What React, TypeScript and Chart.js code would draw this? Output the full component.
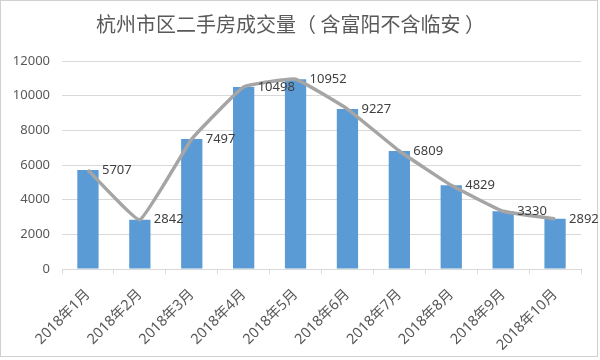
import React, { useEffect, useRef } from "react";
import { Chart, registerables } from "chart.js";

Chart.register(...registerables);

const TITLE = "杭州市区二手房成交量（ 含富阳不含临安 ）";
const MONTHS = [
  "2018年1月", "2018年2月", "2018年3月", "2018年4月", "2018年5月",
  "2018年6月", "2018年7月", "2018年8月", "2018年9月", "2018年10月",
];
const VOLUMES = [5707, 2842, 7497, 10498, 10952, 9227, 6809, 4829, 3330, 2892];
const Y_MIN = 0;
const Y_MAX = 12000;
const Y_STEP = 2000;

const FONT = "'Noto Sans', 'Noto Sans CJK SC', sans-serif";
const TITLE_FONT = "'Noto Sans CJK SC', sans-serif";

const framePlugin = {
  id: "frame",
  beforeDraw(chart: any) {
    const ctx = chart.ctx;
    ctx.save();
    ctx.fillStyle = "#ffffff";
    ctx.fillRect(0, 0, chart.width, chart.height);
    ctx.strokeStyle = "#d0d0d0";
    ctx.lineWidth = 1;
    ctx.strokeRect(0.5, 0.5, 597, 356);
    ctx.restore();
  },
};

const valueLabelPlugin = {
  id: "valueLabels",
  afterDatasetsDraw(chart: any) {
    const ctx = chart.ctx;
    const meta = chart.getDatasetMeta(1);
    const data = chart.data.datasets[1].data;
    ctx.save();
    ctx.font = `13px ${FONT}`;
    ctx.fillStyle = "#404040";
    ctx.textAlign = "left";
    ctx.textBaseline = "middle";
    meta.data.forEach((pt: any, i: number) => {
      ctx.fillText(String(data[i]), pt.x + 14, pt.y);
    });
    ctx.restore();
  },
};

export default function App() {
  const ref = useRef<HTMLCanvasElement>(null);
  useEffect(() => {
    if (!ref.current) return;
    const chart = new Chart(ref.current, {
      type: "bar",
      data: {
        labels: MONTHS,
        datasets: [
          {
            type: "bar",
            data: VOLUMES,
            backgroundColor: "#5b9bd5",
            barPercentage: 0.41,
            categoryPercentage: 1,
            order: 2,
          },
          {
            type: "line",
            data: VOLUMES,
            borderColor: "#a5a5a5",
            borderWidth: 3.5,
            tension: 0.1,
            pointRadius: 0,
            fill: false,
            order: 1,
          },
        ],
      } as any,
      options: {
        animation: false,
        responsive: false,
        layout: { padding: { left: 0, right: 19, top: 0, bottom: 0 } },
        plugins: {
          legend: { display: false },
          tooltip: { enabled: false },
          title: {
            display: true,
            text: TITLE,
            color: "#595959",
            font: { family: TITLE_FONT, size: 20, weight: "normal" },
            padding: { top: 12, bottom: 25 },
          },
        },
        scales: {
          x: {
            grid: {
              offset: true,
              drawOnChartArea: false,
              drawTicks: true,
              tickLength: 5,
              color: "#d9d9d9",
            },
            border: { display: true, color: "#d9d9d9" },
            ticks: {
              color: "#595959",
              font: { family: FONT, size: 14.5 },
              minRotation: 45,
              maxRotation: 45,
              autoSkip: false,
              padding: 12,
            },
            afterFit(scale: any) {
              scale.height = 91;
            },
          },
          y: {
            min: Y_MIN,
            max: Y_MAX,
            grid: { color: "#d9d9d9", drawTicks: false },
            border: { display: false },
            ticks: {
              stepSize: Y_STEP,
              color: "#595959",
              font: { family: FONT, size: 13 },
              padding: 12,
              callback: (v: any) => String(v),
            },
            afterFit(scale: any) {
              scale.width = 62;
            },
          },
        },
      } as any,
      plugins: [framePlugin, valueLabelPlugin],
    });
    return () => chart.destroy();
  }, []);
  return (
    <div style={{ position: "fixed", left: 0, top: 0, width: 600, height: 360 }}>
      <canvas ref={ref} width={600} height={360} style={{ width: 600, height: 360 }} />
    </div>
  );
}
